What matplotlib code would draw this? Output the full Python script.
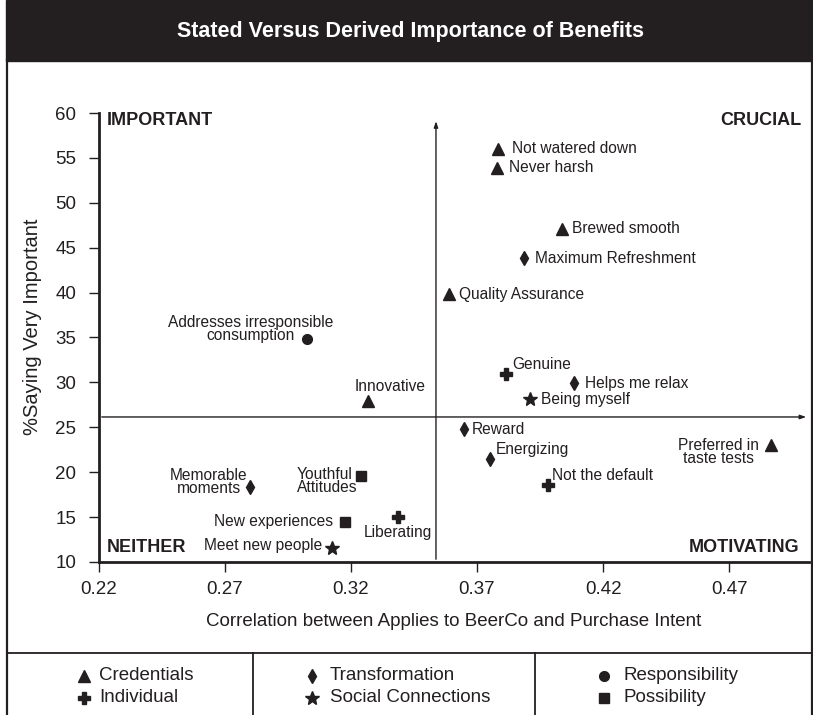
import matplotlib
matplotlib.use('Agg')
import matplotlib.pyplot as plt
from matplotlib.patches import Rectangle

plt.rcParams['font.family'] = ['Liberation Sans', 'DejaVu Sans']

INK = '#231f20'

# benefit data: correlation (x), % saying very important (y), group
labels = ['Not watered down', 'Never harsh', 'Brewed smooth', 'Maximum Refreshment',
          'Quality Assurance', 'Genuine', 'Helps me relax', 'Being myself', 'Reward',
          'Energizing', 'Not the default', 'Preferred in\ntaste tests',
          'Addresses irresponsible\nconsumption', 'Innovative', 'Memorable\nmoments',
          'Youthful\nAttitudes', 'New experiences', 'Liberating', 'Meet new people']
corr = [0.3783, 0.3779, 0.4037, 0.3887, 0.3589, 0.3815, 0.4085, 0.3910, 0.3648,
        0.3752, 0.3982, 0.4867, 0.3025, 0.3267, 0.2799, 0.3240, 0.3176, 0.3387, 0.3125]
pct = [56.0, 53.9, 47.1, 43.85, 39.8, 30.9, 29.9, 28.15, 24.8,
       21.5, 18.6, 23.0, 34.8, 27.9, 18.35, 19.6, 14.45, 15.0, 11.55]
group = ['Credentials', 'Credentials', 'Credentials', 'Transformation',
         'Credentials', 'Individual', 'Transformation', 'Social Connections', 'Transformation',
         'Transformation', 'Individual', 'Credentials',
         'Responsibility', 'Credentials', 'Transformation',
         'Possibility', 'Possibility', 'Individual', 'Social Connections']

groups = ['Credentials', 'Individual', 'Transformation', 'Social Connections',
          'Responsibility', 'Possibility']
markers = {'Credentials': '^', 'Individual': 'P', 'Transformation': 'd',
           'Social Connections': '*', 'Responsibility': 'o', 'Possibility': 's'}
msizes = {'^': 8, 'P': 8, 'd': 7.5, '*': 10, 'o': 7, 's': 7}

# label placement: offset in pixels from point, ha, va
label_pos = [(14, 0, 'left', 'center'), (12, 0, 'left', 'center'), (10, 0, 'left', 'center'),
             (11, 0, 'left', 'center'), (10, 0, 'left', 'center'), (6, 10, 'left', 'center'),
             (11, 0, 'left', 'center'), (11, 0, 'left', 'center'), (8, 0, 'left', 'center'),
             (6, 9, 'left', 'center'), (4, 9, 'left', 'center'), (-12, -7, 'right', 'center'),
             (-56, 10, 'center', 'center'), (22, 15, 'center', 'center'), (-41, 5, 'center', 'center'),
             (-4, -5, 'right', 'center'), (-12, 1, 'right', 'center'), (0, -15, 'center', 'center'),
             (-10, 3, 'right', 'center')]
multi = {'Youthful\nAttitudes': 'left'}

x_mid = 0.3537
y_mid = 26.15

fig = plt.figure(figsize=(8.13, 7.15), dpi=100)

# background frame, title bar and legend box (pixel coordinates)
bg = fig.add_axes([0, 0, 1, 1])
bg.set_xlim(0, 813)
bg.set_ylim(715, 0)
bg.axis('off')
bg.add_patch(Rectangle((6, 0), 807, 61, color=INK))
bg.text(410, 32, 'Stated Versus Derived Importance of Benefits', color='white',
        fontsize=15.5, fontweight='bold', ha='center', va='center')
bg.plot([7, 7], [60, 715], color=INK, lw=1.6)
bg.plot([811.5, 811.5], [60, 715], color=INK, lw=1.6)
bg.plot([7, 813], [652.5, 652.5], color=INK, lw=1.3)
bg.plot([253, 253], [652.5, 715], color=INK, lw=1.3)
bg.plot([535, 535], [652.5, 715], color=INK, lw=1.3)

col_marker = [84, 312, 604]
col_text = [99, 330, 623]
row_y = [676, 698]
for i, g in enumerate(groups):
    c, r = i // 2, i % 2
    m = markers[g]
    bg.plot(col_marker[c], row_y[r], marker=m, ms=msizes[m], color=INK, ls='none')
    bg.text(col_text[c], row_y[r], g, fontsize=13.5, color=INK, ha='left', va='center')

ax = fig.add_axes([99 / 813, 153 / 715, 710 / 813, 449 / 715])
ax.patch.set_alpha(0)
ax.set_xlim(0.22, 0.5017)
ax.set_ylim(10, 60)

for xi, yi, g, lab, (dx, dy, ha, va) in zip(corr, pct, group, labels, label_pos):
    m = markers[g]
    ax.plot(xi, yi, marker=m, ms=msizes[m], color=INK, ls='none', zorder=3)
    ax.annotate(lab, (xi, yi), xytext=(dx, dy), textcoords='offset pixels',
                ha=ha, va=va, fontsize=11.2, color=INK, linespacing=0.85,
                multialignment=multi.get(lab, 'center'))

# quadrant dividers
ax.annotate('', xy=(x_mid, 59.4), xytext=(x_mid, 10),
            arrowprops=dict(arrowstyle='-|>,head_length=0.35,head_width=0.12', lw=1, color=INK),
            annotation_clip=False)
ax.annotate('', xy=(0.5017, y_mid), xytext=(0.22, y_mid),
            arrowprops=dict(arrowstyle='-|>,head_length=0.35,head_width=0.12', lw=1, color=INK),
            annotation_clip=False)

ax.text(0.0113, 0.984, 'IMPORTANT', transform=ax.transAxes, fontsize=13, fontweight='bold',
        color=INK, ha='left', va='center')
ax.text(0.9887, 0.984, 'CRUCIAL', transform=ax.transAxes, fontsize=13, fontweight='bold',
        color=INK, ha='right', va='center')
ax.text(0.0113, 0.0334, 'NEITHER', transform=ax.transAxes, fontsize=13, fontweight='bold',
        color=INK, ha='left', va='center')
ax.text(0.986, 0.0334, 'MOTIVATING', transform=ax.transAxes, fontsize=13, fontweight='bold',
        color=INK, ha='right', va='center')

ax.spines['top'].set_visible(False)
ax.spines['right'].set_visible(False)
ax.spines['left'].set_linewidth(2)
ax.spines['bottom'].set_linewidth(2)
ax.spines['left'].set_color(INK)
ax.spines['bottom'].set_color(INK)

ax.set_yticks(range(10, 61, 5))
ax.set_xticks([0.22, 0.27, 0.32, 0.37, 0.42, 0.47])
ax.set_xticklabels(['%.2f' % t for t in [0.22, 0.27, 0.32, 0.37, 0.42, 0.47]])
ax.tick_params(axis='y', direction='out', length=7.5, width=1, pad=9, labelsize=13.5,
               colors=INK)
ax.tick_params(axis='x', direction='out', length=7.5, width=1, pad=6, labelsize=13.5,
               colors=INK)

ax.set_xlabel('Correlation between Applies to BeerCo and Purchase Intent', fontsize=13.5,
              color=INK)
ax.xaxis.set_label_coords(0.5, -0.114)
ax.text(-0.094, 0.523, '%Saying Very Important', transform=ax.transAxes, rotation=90,
        fontsize=14.5, color=INK, ha='center', va='center')

fig.savefig('out.png', dpi=100)
